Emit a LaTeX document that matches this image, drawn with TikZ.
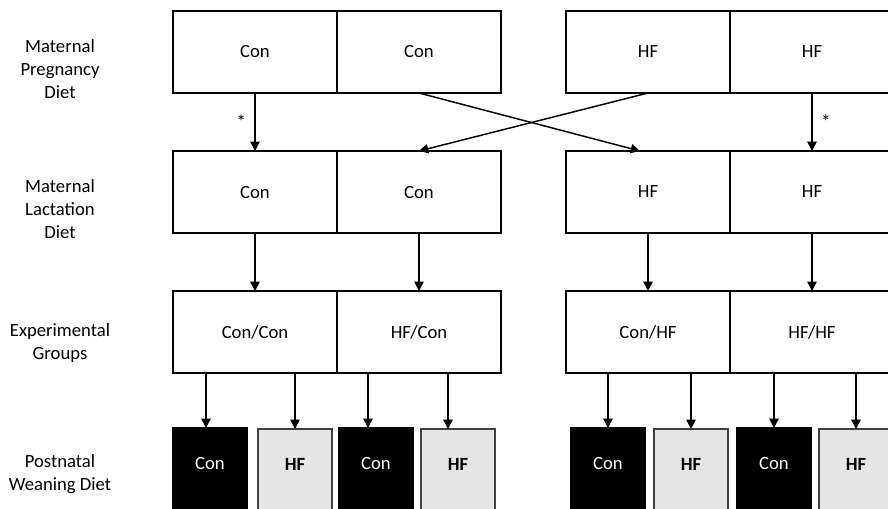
\documentclass[tikz,border=0pt]{standalone}
\usepackage{fontspec}
\setmainfont{Carlito}
\usepackage{xcolor}
\usepackage{tikz}
\usetikzlibrary{shapes, arrows.meta, positioning}

\begin{document}
\begin{tikzpicture}[x=0.75pt, y=-0.75pt,
        font=\fontsize{14}{17}\selectfont,
        dietbox/.style={draw, rectangle, line width=1.1pt, outer sep=0pt, minimum width=123pt, minimum height=61.5pt},
        weanbox/.style={draw, rectangle, outer sep=0pt, minimum width=55.5pt, minimum height=70pt, text height=10pt, text depth=18pt},
        conbox/.style={weanbox, fill=black, text=white, line width=1.1pt},
        hfbox/.style={weanbox, fill=black!10, draw=black!75, line width=0.8pt, font=\fontsize{14}{17}\selectfont\bfseries},
        rowlabel/.style={align=center},
        arr/.style={-{Triangle[length=7pt, width=7pt]}, line width=1.1pt}]
    \useasboundingbox (0,0) rectangle (888,508);
    \clip (0,0) rectangle (888,508);

    % row labels
    \node[rowlabel] (lblpreg) at (60,69) {Maternal\\Pregnancy\\Diet};
    \node[rowlabel] (lbllact) at (60,209) {Maternal\\Lactation\\Diet};
    \node[rowlabel] (lblgrp) at (60,343) {Experimental\\Groups};
    \node[rowlabel] (lblwean) at (60,474) {Postnatal\\Weaning Diet};

    % pregnancy diet
    \node[dietbox, anchor=north west] (preg1) at (173,11) {Con};
    \node[dietbox, right=0pt of preg1] (preg2) {Con};
    \node[dietbox, right=48.75pt of preg2] (preg3) {HF};
    \node[dietbox, right=0pt of preg3] (preg4) {HF};

    % lactation diet
    \node[dietbox, below=43.5pt of preg1] (lact1) {Con};
    \node[dietbox, right=0pt of lact1] (lact2) {Con};
    \node[dietbox, right=48.75pt of lact2] (lact3) {HF};
    \node[dietbox, right=0pt of lact3] (lact4) {HF};

    % experimental groups
    \node[dietbox, below=43.5pt of lact1] (grp1) {Con/Con};
    \node[dietbox, right=0pt of grp1] (grp2) {HF/Con};
    \node[dietbox, right=48.75pt of grp2] (grp3) {Con/HF};
    \node[dietbox, right=0pt of grp3] (grp4) {HF/HF};

    % weaning diet
    \node[conbox, anchor=north west] (wean1) at (173,428) {Con};
    \node[hfbox, anchor=north west] (wean2) at (258,429) {HF};
    \node[conbox, anchor=north west] (wean3) at (339,428) {Con};
    \node[hfbox, anchor=north west] (wean4) at (421,429) {HF};
    \node[conbox, anchor=north west] (wean5) at (571,428) {Con};
    \node[hfbox, anchor=north west] (wean6) at (654,429) {HF};
    \node[conbox, anchor=north west] (wean7) at (737,428) {Con};
    \node[hfbox, anchor=north west] (wean8) at (819,429) {HF};

    % arrows
    \draw[arr] (preg1.south) -- node[left=3pt] {\Large *} (lact1.north);
    \draw[arr] (preg2.south) -- ([xshift=-6pt]lact3.north);
    \draw[arr] (preg3.south) -- (lact2.north);
    \draw[arr] (preg4.south) -- node[right=3pt] {\Large *} (lact4.north);

    \draw[arr] (lact1) -- (grp1);
    \draw[arr] (lact2) -- (grp2);
    \draw[arr] (lact3) -- (grp3);
    \draw[arr] (lact4) -- (grp4);

    \draw[arr] (grp1.south -| wean1.north) ++(-3pt,0) -- ([xshift=-3pt]wean1.north);
    \draw[arr] (grp1.south -| wean2.north) -- (wean2.north);
    \draw[arr] (grp2.south -| wean3.north) ++(-6pt,0) -- ([xshift=-6pt]wean3.north);
    \draw[arr] (grp2.south -| wean4.north) ++(-7.5pt,0) -- ([xshift=-7.5pt]wean4.north);
    \draw[arr] (grp3.south -| wean5.north) -- (wean5.north);
    \draw[arr] (grp3.south -| wean6.north) -- (wean6.north);
    \draw[arr] (grp4.south -| wean7.north) -- (wean7.north);
    \draw[arr] (grp4.south -| wean8.north) -- (wean8.north);
\end{tikzpicture}
\end{document}
